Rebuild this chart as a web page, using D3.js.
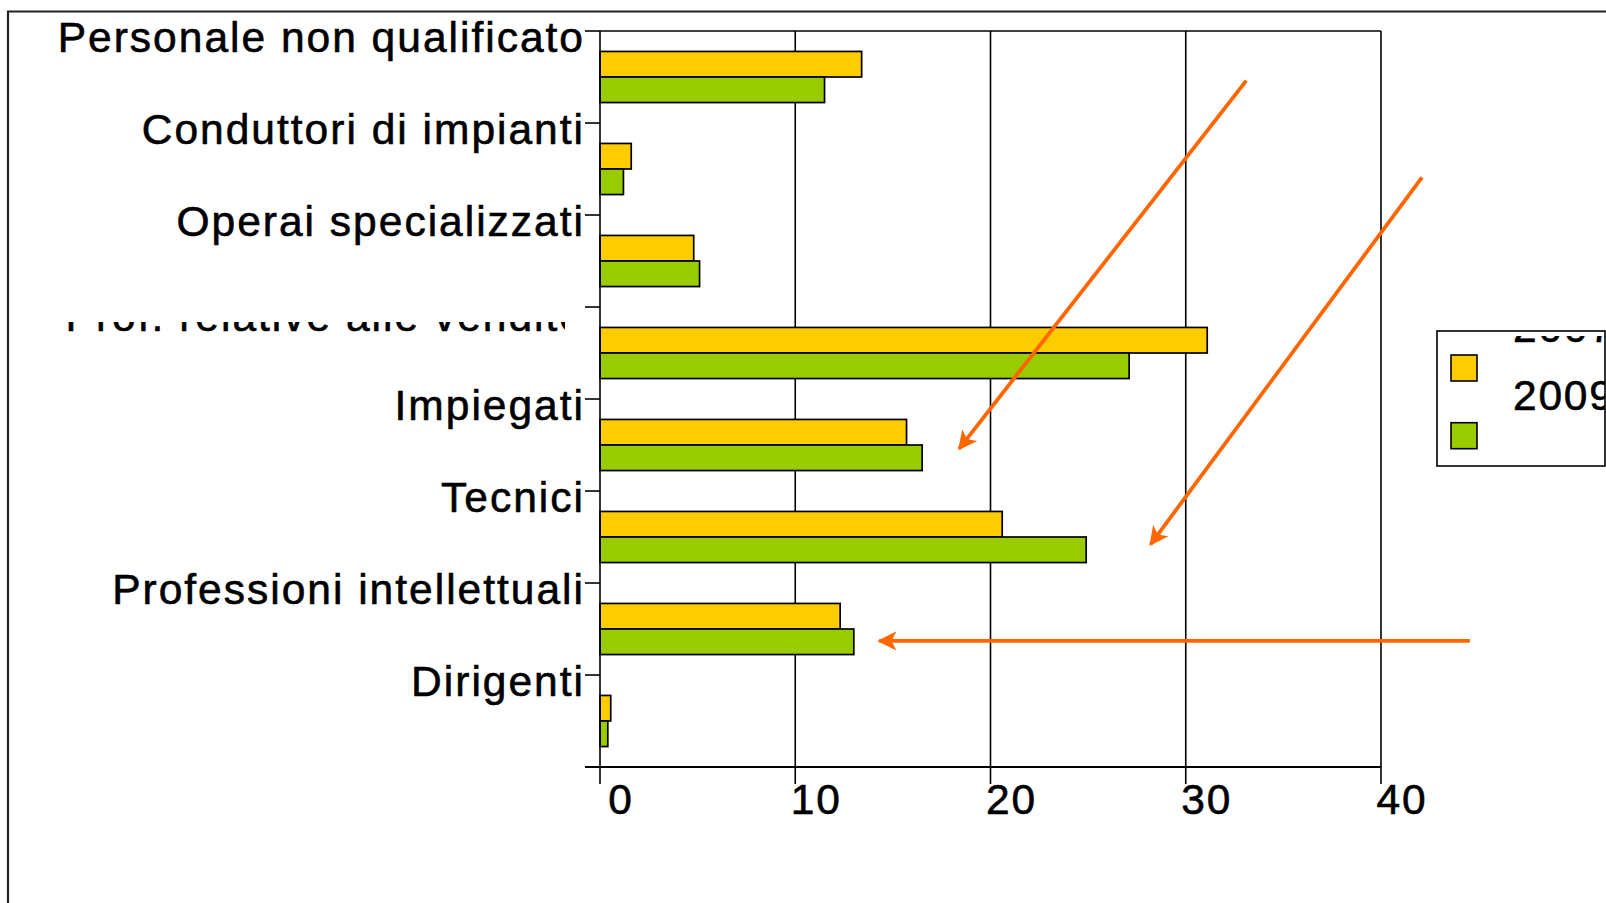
<!DOCTYPE html>
<html>
<head>
<meta charset="utf-8">
<script src="https://cdn.jsdelivr.net/npm/d3@7"></script>
<style>
  html, body { margin: 0; padding: 0; background: #fff; }
  svg { display: block; }
  text { font-family: "Liberation Sans", Arial, sans-serif; fill: #000; stroke: #000; stroke-width: 0.6px; }
</style>
</head>
<body>
<svg id="chart" width="1606" height="903"></svg>
<script>
// ---- data ----
const categories = [
  "Personale non qualificato",
  "Conduttori di impianti",
  "Operai specializzati",
  "Prof. relative alle vendite",
  "Impiegati",
  "Tecnici",
  "Professioni intellettuali",
  "Dirigenti"
];
const seriesNames = ["2007", "2009"];
const values2007 = [13.4, 1.6, 4.8, 31.1, 15.7, 20.6, 12.3, 0.55];
const values2009 = [11.5, 1.2, 5.1, 27.1, 16.5, 24.9, 13.0, 0.4];
const xTickValues = [0, 10, 20, 30, 40];
const seriesColors = ["#FFCC00", "#99CC00"];
// annotation arrows in data units (x: value, y: category band units)
const arrowsData = [
  { x1: 33.1, y1: 0.54, x2: 18.4, y2: 4.54 },
  { x1: 42.1, y1: 1.59, x2: 28.2, y2: 5.58 },
  { x1: 44.55, y1: 6.63, x2: 14.3, y2: 6.63 }
];

// ---- layout ----
const svg = d3.select("#chart");
const L = 600, R = 1381, T = 31, B = 767;

const x = d3.scaleLinear().domain([0, 40]).range([L, R]);
const y = d3.scaleBand().domain(categories).range([T, B]).padding(0);
const yUnits = d3.scaleLinear().domain([0, categories.length]).range([T, B]);
const ySub = d3.scaleBand().domain(seriesNames).range([0, y.bandwidth()])
  .paddingInner(0).paddingOuter(0.8);

// outer frame
svg.append("path")
  .attr("d", "M8,903 L8,11.5 L1606,11.5")
  .attr("fill", "none").attr("stroke", "#222").attr("stroke-width", 2.2);

// gridlines
svg.append("g").selectAll("line").data(xTickValues.filter(d => d > 0)).join("line")
  .attr("x1", d => x(d)).attr("x2", d => x(d))
  .attr("y1", T).attr("y2", B)
  .attr("stroke", "#000").attr("stroke-width", 1.6);
// top border
svg.append("line").attr("x1", L).attr("x2", R).attr("y1", T).attr("y2", T)
  .attr("stroke", "#000").attr("stroke-width", 1.6);

// bars
const rows = categories.map((c, i) => ({ cat: c, vals: [values2007[i], values2009[i]] }));
const gBars = svg.append("g");
rows.forEach(r => {
  r.vals.forEach((v, si) => {
    gBars.append("rect")
      .attr("x", x(0))
      .attr("y", y(r.cat) + ySub(seriesNames[si]))
      .attr("width", x(v) - x(0))
      .attr("height", ySub.bandwidth())
      .attr("fill", seriesColors[si])
      .attr("stroke", "#000").attr("stroke-width", 1.7);
  });
});

// category axis (left)
const boundaries = d3.range(categories.length + 1);
svg.append("line").attr("x1", L).attr("x2", L).attr("y1", T).attr("y2", B)
  .attr("stroke", "#000").attr("stroke-width", 1.6);
svg.append("g").selectAll("line").data(boundaries).join("line")
  .attr("x1", L - 15).attr("x2", L)
  .attr("y1", d => yUnits(d)).attr("y2", d => yUnits(d))
  .attr("stroke", "#000").attr("stroke-width", 1.6);

// clip for the partly hidden category label
const defs = svg.append("defs");
defs.append("clipPath").attr("id", "clipVend")
  .append("rect").attr("x", 0).attr("y", yUnits(3) + 15).attr("width", 565).attr("height", 60);

svg.append("g").selectAll("text").data(categories).join("text")
  .attr("x", L - 15)
  .attr("y", (d, i) => y(d) + (i === 3 ? 24 : 21))
  .attr("text-anchor", "end")
  .attr("font-size", 42.5)
  .attr("letter-spacing", 2.0)
  .attr("clip-path", (d, i) => i === 3 ? "url(#clipVend)" : null)
  .text(d => d);

// value axis (bottom)
svg.append("line").attr("x1", L - 15).attr("x2", R).attr("y1", B).attr("y2", B)
  .attr("stroke", "#000").attr("stroke-width", 1.8);
svg.append("g").selectAll("line").data(xTickValues).join("line")
  .attr("x1", d => x(d)).attr("x2", d => x(d))
  .attr("y1", B).attr("y2", B + 17)
  .attr("stroke", "#000").attr("stroke-width", 1.6);
svg.append("g").selectAll("text").data(xTickValues).join("text")
  .attr("x", d => x(d) + 21)
  .attr("y", B + 47)
  .attr("text-anchor", "middle")
  .attr("font-size", 42.5)
  .attr("letter-spacing", 1.8)
  .text(d => d);

// arrows
const marker = defs.append("marker").attr("id", "arrowHead")
  .attr("viewBox", "0 0 10 10").attr("refX", 9).attr("refY", 5)
  .attr("markerWidth", 5).attr("markerHeight", 5)
  .attr("markerUnits", "strokeWidth")
  .attr("orient", "auto");
marker.append("path").attr("d", "M0,0 L10,5 L0,10 L2.5,5 Z").attr("fill", "#FF6600");

svg.append("g").selectAll("line").data(arrowsData).join("line")
  .attr("x1", d => x(d.x1)).attr("y1", d => yUnits(d.y1))
  .attr("x2", d => x(d.x2)).attr("y2", d => yUnits(d.y2))
  .attr("stroke", "#FF6600").attr("stroke-width", 3.8)
  .attr("marker-end", "url(#arrowHead)");

// legend
const lg = svg.append("g");
const lgX = 1437, lgY = 331, lgW = 168, lgH = 135;
lg.append("rect").attr("x", lgX).attr("y", lgY).attr("width", lgW).attr("height", lgH)
  .attr("fill", "#fff").attr("stroke", "#000").attr("stroke-width", 1.6);
defs.append("clipPath").attr("id", "clipLegend")
  .append("rect").attr("x", lgX).attr("y", lgY + 5).attr("width", lgW).attr("height", lgH - 5);
seriesNames.forEach((s, i) => {
  lg.append("rect").attr("x", lgX + 14).attr("y", lgY + 24 + i * 67.7)
    .attr("width", 26).attr("height", 26)
    .attr("fill", seriesColors[i]).attr("stroke", "#000").attr("stroke-width", 1.6);
  lg.append("text").attr("x", lgX + 76).attr("y", lgY + 11 + i * 68)
    .attr("font-size", 42.5).attr("letter-spacing", 1.8)
    .attr("clip-path", "url(#clipLegend)")
    .text(s);
});
</script>
</body>
</html>
